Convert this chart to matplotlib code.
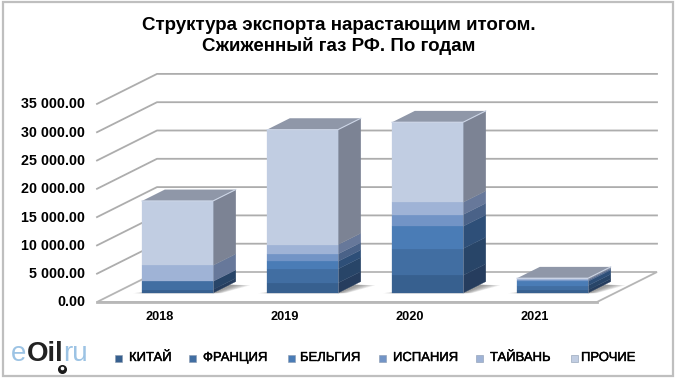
import numpy as np
import matplotlib
matplotlib.use('Agg')
import matplotlib.pyplot as plt
from matplotlib.patches import Polygon, Rectangle
import matplotlib.patheffects as pe

plt.rcParams['font.family'] = ['Liberation Sans', 'DejaVu Sans']

# data
years = ['2018', '2019', '2020', '2021']
names = ['КИТАЙ', 'ФРАНЦИЯ', 'БЕЛЬГИЯ', 'ИСПАНИЯ', 'ТАЙВАНЬ', 'ПРОЧИЕ']
china = [590, 1770, 3120, 500]
france = [1470, 2470, 4710, 800]
belgium = [0, 1350, 3950, 750]
spain = [0, 1300, 2060, 200]
taiwan = [2830, 1650, 2180, 150]
other = [11370, 20320, 14140, 200]
yticks = [0, 5000, 10000, 15000, 20000, 25000, 30000, 35000]
ylabels = ['0.00', '5 000.00', '10 000.00', '15 000.00', '20 000.00', '25 000.00', '30 000.00', '35 000.00']

front_col = ['#37608f', '#416ea2', '#4a7cb6', '#7294c6', '#9fb3d6', '#c1cde2']
side_col = ['#263d5e', '#284568', '#2e4f78', '#4a6288', '#67789a', '#7c8394']
leg_x = [118, 192, 291, 382, 479, 574]
leg_tx = [129, 203, 300, 393, 490, 581]

# 1 category = 125 px, 5000 = 28.3 px
PX = 1 / 125
PV = 5000 / 28.3
X0, Y0 = 97, 302
DEPTH_X = 60 * PX
DEPTH_V = 30 * PV


def proj(x, v, d):
    return x + d * DEPTH_X, v + d * DEPTH_V


def px_x(p):
    return (p - X0) * PX


def px_y(p):
    return (Y0 - p) * PV


fig = plt.figure(figsize=(6.8, 3.84), dpi=100)
ax = fig.add_axes([0, 0, 1, 1])
ax.set_xlim(px_x(0), px_x(680))
ax.set_ylim(px_y(384), px_y(0))
ax.axis('off')

# frame
ax.add_patch(Rectangle((px_x(2.5), px_y(376)), 670.5 * PX, 374 * PV, fc='white', ec='#bfbfbf', lw=1.6, zorder=1))

# walls
for v in yticks[1:]:
    xs, ys = zip(proj(0, v, 0), proj(0, v, 1), proj(4, v, 1))
    ax.plot(xs, ys, color='#adadad', lw=1.3, zorder=2)
floor = [proj(0, 0, 1), proj(4, 0, 1), proj(4, 0, 0), proj(0, 0, 0), proj(0, 0, 1)]
ax.plot(*zip(*floor), color='#b5b5b5', lw=1.3, zorder=2, solid_joinstyle='miter')
ax.plot(*zip(proj(0, 0, 0), proj(4, 0, 0)), color='#b8b8b8', lw=2.0, zorder=2)

# bars
series = np.array([china, france, belgium, spain, taiwan, other], dtype=float)
W = 71 * PX
D0 = 0.30
D1 = 0.68
for i in range(len(years)):
    x0 = i + 0.5 - W / 2
    x1 = x0 + W
    # soft shadow on the floor
    for k in range(6):
        g = (6 - k) * 0.012
        ax.add_patch(Polygon([proj(x0 - g, 0, D0 - 0.005), proj(x1 + g, 0, D0 - 0.005),
                              proj(x1 + 0.03 + g * 2, 0, D1 - 0.12), proj(x1, 0, D1 - 0.1)],
                             fc='#505050', ec='none', alpha=0.12, zorder=3))
    base = 0
    for j, vals in enumerate(series):
        h = vals[i]
        if h <= 0:
            continue
        top = base + h
        ax.add_patch(Rectangle(proj(x0, base, D0), W, h, fc=front_col[j], ec=front_col[j], lw=0.2, zorder=5))
        ax.add_patch(Polygon([proj(x1, base, D0), proj(x1, base, D1), proj(x1, top, D1), proj(x1, top, D0)],
                             fc=side_col[j], ec=side_col[j], lw=0.2, zorder=4))
        base = top
    ax.add_patch(Polygon([proj(x0, base, D0), proj(x1, base, D0), proj(x1, base, D1), proj(x0, base, D1)],
                         fc='#8f97a8', ec='none', zorder=4))
    # light bevel edges
    ax.plot(*zip(proj(x0, base, D0), proj(x1, base, D0), proj(x1, base, D1)), color='#ccd5e6', lw=0.8, zorder=6)
    ax.plot(*zip(proj(x1, base, D0), proj(x1, 0, D0)), color='#a9b6cc', lw=0.6, alpha=0.5, zorder=6)

# axis labels
for v, s in zip(yticks, ylabels):
    ax.text(px_x(85), v - 0.5 * PV, s, ha='right', va='center', fontsize=10.3, fontweight='bold', color='black')
for i, s in enumerate(years):
    ax.text(i + 0.5, px_y(317), s, ha='center', va='center', fontsize=9.2, fontweight='bold', color='black')

# title
ax.text(px_x(338.5), px_y(25), 'Структура экспорта нарастающим итогом.', ha='center', va='center',
        fontsize=13.5, fontweight='bold', color='black')
ax.text(px_x(338.5), px_y(46), 'Сжиженный газ РФ. По годам', ha='center', va='center',
        fontsize=13.5, fontweight='bold', color='black')

# legend
for n, mx, tx, c in zip(names, leg_x, leg_tx, front_col):
    ax.add_patch(Rectangle((px_x(mx - 3.5), px_y(361.5)), 7 * PX, 7 * PV, fc=c, ec='#8a9ab0', lw=0.4, zorder=5))
    ax.text(px_x(tx), px_y(358), n, ha='left', va='center', fontsize=9.4, color='black',
            path_effects=[pe.withStroke(linewidth=0.3, foreground='black')])

# logo
ax.text(px_x(11), px_y(361), 'e', fontsize=20, color='#9cc3e4', ha='left', va='baseline')
ax.text(px_x(27), px_y(361), 'Oil', fontsize=20, fontweight='bold', color='#222222', ha='left', va='baseline')
ax.text(px_x(63), px_y(361), 'ru', fontsize=20, color='#9cc3e4', ha='left', va='baseline')
ax.plot([px_x(61.5)], [px_y(369)], marker='o', ms=5.5, color='#1a1a1a', zorder=6)
ax.plot([px_x(61.5)], [px_y(368)], marker='o', ms=1.6, color='white', zorder=7)

fig.savefig('out.png', dpi=100)
